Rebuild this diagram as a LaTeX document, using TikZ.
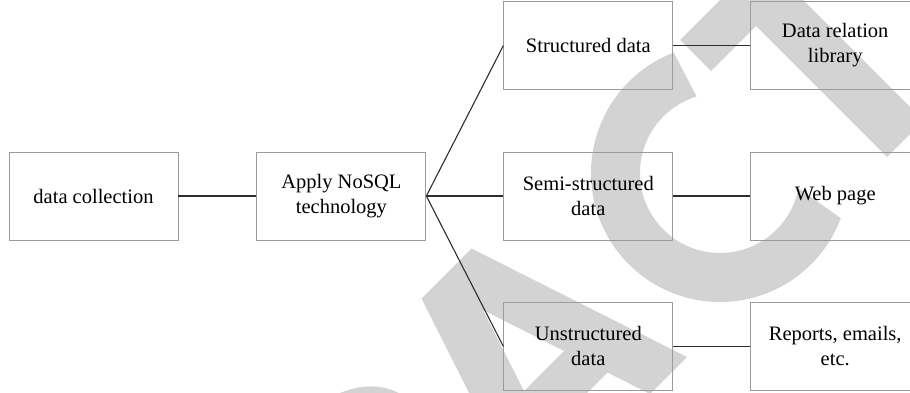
\documentclass[tikz,border=0pt]{standalone}
\usepackage{fontspec}
\setmainfont{Liberation Serif}
\usepackage{tikz}
\usetikzlibrary{positioning}
\definecolor{wmgray}{RGB}{211,211,211}
\definecolor{boxgray}{RGB}{155,155,155}
\definecolor{linegray}{RGB}{45,45,45}
\tikzset{
  box/.style={draw=boxgray, line width=0.9pt, minimum width=169pt, minimum height=88pt,
    align=center, inner sep=2pt, font=\fontsize{20.5pt}{25pt}\selectfont},
  link/.style={draw=linegray, line width=1.1pt},
  wm/.style={fill=wmgray}
}
\begin{document}
\begin{tikzpicture}[x=1pt, y=1pt]

    \useasboundingbox (0,0) rectangle (910,393);

    \begin{scope}
      \clip (0,0) rectangle (910,393);
      \fill[wm] (720,220) ++(111:129) arc[start angle=111, end angle=339.5, radius=129]
        -- (798.5,204.7) arc[start angle=349, end angle=107, radius=80] -- cycle;
      \begin{scope}[shift={(0pt,393pt)}, x={(0.5pt,0.5pt)}, y={(0.5pt,-0.5pt)}]
        \fill[wm] (640,720) -- (892,720) -- (892,782) -- (803,782) -- (803,1044)
          -- (730,1044) -- (730,782) -- (640,782) -- cycle;
        \fill[wm, even odd rule] (16,1044) -- (123,720) -- (223,720) -- (330,1044) -- (256,1044)
          -- (235,980) -- (111,980) -- (90,1044) -- cycle
          (173,793) -- (213,915) -- (133,915) -- cycle;
        \fill[wm] (-284,1044) -- (-284,720) -- (-120,720) .. controls (-60,720) and (10,750) .. (10,820)
          .. controls (10,880) and (-30,905) .. (-120,905) -- (-210,905) -- (-210,1044) -- cycle;
      \end{scope}
    \end{scope}

    \node[box] (collect) at (93.5,197) {data collection};
    \node[box, right=78pt of collect] (nosql) {Apply NoSQL\\technology};
    \node[box, right=77pt of nosql] (semi) {Semi-structured\\data};
    \node[box, above=61.5pt of semi] (struct) {Structured data};
    \node[box, below=61.5pt of semi] (unstruct) {Unstructured\\data};
    \node[box, right=77pt of struct] (relation) {Data relation\\library};
    \node[box, right=77pt of semi] (webpage) {Web page};
    \node[box, right=77pt of unstruct] (reports) {Reports, emails,\\etc.};

    \draw[link] (collect) -- (nosql);
    \draw[link] (nosql.east) -- (struct.west);
    \draw[link] (nosql.east) -- (semi.west);
    \draw[link] (nosql.east) -- (unstruct.west);
    \draw[link] (struct) -- (relation);
    \draw[link] (semi) -- (webpage);
    \draw[link] (unstruct) -- (reports);

\end{tikzpicture}
\end{document}
